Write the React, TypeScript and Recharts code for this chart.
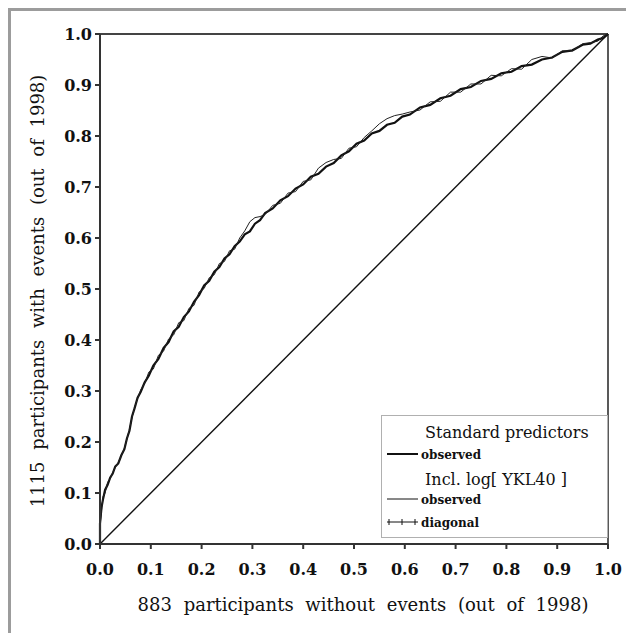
import React from "react";
import {
  ComposedChart,
  Line,
  XAxis,
  YAxis,
  Label,
  Legend,
  ReferenceLine,
} from "recharts";

// false positive fraction (883 participants without events)
const fpr = [
  0.0, 0.0, 0.003, 0.006, 0.01, 0.015, 0.02, 0.025, 0.03, 0.036, 0.042, 0.048,
  0.053, 0.058, 0.063, 0.068, 0.074, 0.08, 0.088, 0.096, 0.105, 0.115, 0.125,
  0.135, 0.145, 0.155, 0.165, 0.175, 0.185, 0.195, 0.205, 0.215, 0.225, 0.235,
  0.245, 0.255, 0.265, 0.275, 0.285, 0.295, 0.305, 0.315, 0.325, 0.34, 0.355,
  0.37, 0.385, 0.4, 0.415, 0.43, 0.445, 0.46, 0.475, 0.49, 0.505, 0.52, 0.535,
  0.55, 0.565, 0.58, 0.595, 0.61, 0.63, 0.65, 0.67, 0.69, 0.71, 0.73, 0.75,
  0.77, 0.79, 0.81, 0.83, 0.85, 0.87, 0.89, 0.91, 0.93, 0.95, 0.965, 0.98,
  0.99, 1.0,
];

// true positive fraction, standard predictors
const standardObserved = [
  0.0, 0.04, 0.072, 0.088, 0.106, 0.116, 0.13, 0.138, 0.152, 0.158, 0.174,
  0.186, 0.207, 0.222, 0.25, 0.266, 0.287, 0.298, 0.317, 0.33, 0.35, 0.363,
  0.384, 0.396, 0.417, 0.426, 0.445, 0.456, 0.475, 0.488, 0.507, 0.516, 0.534,
  0.543, 0.56, 0.568, 0.584, 0.593, 0.607, 0.613, 0.628, 0.635, 0.649, 0.658,
  0.674, 0.682, 0.697, 0.705, 0.72, 0.726, 0.74, 0.747, 0.762, 0.77, 0.785,
  0.791, 0.805, 0.81, 0.822, 0.826, 0.838, 0.842, 0.856, 0.861, 0.874, 0.879,
  0.892, 0.896, 0.908, 0.912, 0.923, 0.926, 0.937, 0.94, 0.95, 0.954, 0.965,
  0.968, 0.979, 0.981, 0.989, 0.992, 1.0,
];

// true positive fraction, incl. log[YKL40]
const ykl40Observed = [
  0.0, 0.035, 0.066, 0.093, 0.1, 0.121, 0.128, 0.14, 0.15, 0.16, 0.173, 0.188,
  0.206, 0.225, 0.248, 0.268, 0.285, 0.302, 0.315, 0.337, 0.343, 0.37, 0.378,
  0.402, 0.41, 0.434, 0.438, 0.462, 0.468, 0.494, 0.501, 0.522, 0.528, 0.55,
  0.554, 0.575, 0.578, 0.6, 0.614, 0.632, 0.64, 0.642, 0.646, 0.664, 0.668,
  0.688, 0.691, 0.711, 0.714, 0.737, 0.748, 0.754, 0.756, 0.776, 0.779, 0.797,
  0.81, 0.824, 0.834, 0.84, 0.843, 0.847, 0.851, 0.867, 0.868, 0.886, 0.886,
  0.902, 0.902, 0.919, 0.918, 0.932, 0.931, 0.95, 0.956, 0.953, 0.967, 0.967,
  0.981, 0.983, 0.986, 0.996, 1.0,
];

const diagonalX = [0, 1];
const diagonalY = [0, 1];

const ticks = [0, 0.1, 0.2, 0.3, 0.4, 0.5, 0.6, 0.7, 0.8, 0.9, 1.0];

const rocData = fpr.map((x, i) => ({
  x,
  standard: standardObserved[i],
  ykl40: ykl40Observed[i],
}));

const diagonalData = diagonalX.map((x, i) => ({ x, diagonal: diagonalY[i] }));

const SERIF = "'DejaVu Serif', 'Liberation Serif', serif";

const tickStyle = {
  fill: "#111",
  fontSize: 16,
  fontWeight: 700,
  fontFamily: SERIF,
};

function LegendBox() {
  return (
    <svg width={228} height={124} style={{ display: "block" }}>
      <rect
        x={0.5}
        y={0.5}
        width={226}
        height={122}
        fill="#fff"
        stroke="#b0b0b0"
      />
      <g fontFamily={SERIF} fill="#111">
        <text x={44} y={23} fontSize={16}>
          Standard predictors
        </text>
        <line x1={6} x2={37} y1={39} y2={39} stroke="#111" strokeWidth={2} />
        <text x={40} y={44} fontSize={12} fontWeight={600}>
          observed
        </text>
        <text x={44} y={70} fontSize={16}>
          Incl. log[ YKL40 ]
        </text>
        <line x1={6} x2={37} y1={84} y2={84} stroke="#111" strokeWidth={1} />
        <text x={40} y={89} fontSize={12} fontWeight={600}>
          observed
        </text>
        <line x1={6} x2={37} y1={107} y2={107} stroke="#111" strokeWidth={1} />
        {[8, 21, 34].map((cx) => (
          <line
            key={cx}
            x1={cx}
            x2={cx}
            y1={104}
            y2={110}
            stroke="#111"
            strokeWidth={1}
          />
        ))}
        <text x={40} y={112} fontSize={12} fontWeight={600}>
          diagonal
        </text>
      </g>
    </svg>
  );
}

export default function App() {
  return (
    <div
      style={{
        position: "relative",
        width: 640,
        height: 640,
        borderLeft: "3px solid #9c9c9c",
        borderTop: "3px solid #9c9c9c",
        background: "#fff",
      }}
    >
      <ComposedChart
        width={620}
        height={620}
        margin={{ top: 23, right: 23, bottom: 27, left: 0 }}
      >
        <XAxis
          type="number"
          dataKey="x"
          domain={[0, 1]}
          ticks={ticks}
          tickFormatter={(v: number) => v.toFixed(1)}
          tick={tickStyle}
          tickSize={5}
          tickMargin={15}
          height={60}
          stroke="#333"
          strokeWidth={2}
          allowDuplicatedCategory={false}
        >
          <Label
            content={() => (
              <text
                x={352}
                y={600}
                textAnchor="middle"
                fontFamily={SERIF}
                fontSize={18}
                fill="#111"
                wordSpacing={6}
              >
                883 participants without events (out of 1998)
              </text>
            )}
          />
        </XAxis>
        <YAxis
          type="number"
          domain={[0, 1]}
          ticks={ticks}
          tickFormatter={(v: number) => v.toFixed(1)}
          tick={tickStyle}
          tickSize={5}
          tickMargin={3}
          width={89}
          stroke="#333"
          strokeWidth={2}
        >
          <Label
            content={() => (
              <text
                x={33}
                y={280}
                transform="rotate(-90, 33, 280)"
                textAnchor="middle"
                fontFamily={SERIF}
                fontSize={18}
                fill="#111"
                wordSpacing={6}
              >
                1115 participants with events (out of 1998)
              </text>
            )}
          />
        </YAxis>
        <ReferenceLine y={1} stroke="#444" strokeWidth={2} />
        <ReferenceLine x={1} stroke="#222" strokeWidth={1.5} />
        <Line
          data={diagonalData}
          dataKey="diagonal"
          type="linear"
          stroke="#111"
          strokeWidth={1.4}
          dot={false}
          isAnimationActive={false}
        />
        <Line
          data={rocData}
          dataKey="standard"
          type="linear"
          stroke="#111"
          strokeWidth={2.2}
          dot={false}
          isAnimationActive={false}
        />
        <Line
          data={rocData}
          dataKey="ykl40"
          type="linear"
          stroke="#222"
          strokeWidth={1}
          dot={false}
          isAnimationActive={false}
        />
        <Legend
          layout="vertical"
          align="center"
          verticalAlign="middle"
          content={() => <LegendBox />}
          wrapperStyle={{ position: "absolute", left: 370, top: 404, width: 228 }}
        />
      </ComposedChart>
    </div>
  );
}
